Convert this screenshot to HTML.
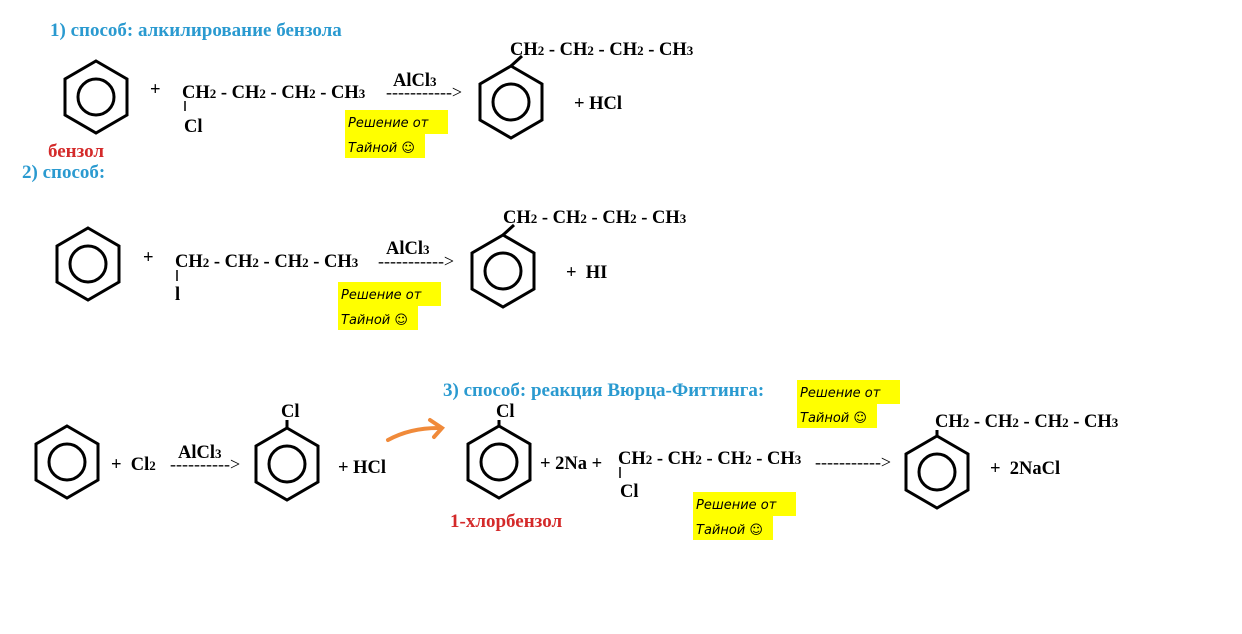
<!DOCTYPE html>
<html><head><meta charset="utf-8"><style>
html,body{margin:0;padding:0;background:#fff}
svg{display:block}
.t{font-family:"Liberation Serif",serif;font-weight:bold;font-size:18.5px;fill:#000}
.b{font-family:"Liberation Serif",serif;font-weight:bold;font-size:19px;fill:#2a9ad0}
.r{font-family:"Liberation Serif",serif;font-weight:bold;font-size:19px;fill:#d42a2a}
.h{font-family:"DejaVu Sans",sans-serif;font-style:italic;font-size:13px;fill:#000}
.d{font-family:"Liberation Serif",serif;font-size:18px;fill:#000}
</style></head><body>
<svg width="1242" height="634" viewBox="0 0 1242 634" xmlns="http://www.w3.org/2000/svg">
<defs>
<g id="bz" fill="none" stroke="#000" stroke-width="3">
<polygon points="0,-36 31,-18 31,18 0,36 -31,18 -31,-18"/>
<circle r="18"/>
</g>
<g id="hl">
<rect x="0" y="0" width="103" height="24" fill="#ffff00"/>
<rect x="0" y="24" width="80" height="24" fill="#ffff00"/>
<text class="h" x="3" y="17">Решение от</text>
<text class="h" x="3" y="42">Тайной ☺</text>
</g>
</defs>

<!-- Row 1 -->
<text class="b" x="50" y="36">1) способ: алкилирование бензола</text>
<use href="#bz" x="96" y="97"/>
<text class="t" x="150" y="95">+</text>
<text class="t" x="182" y="98">CH<tspan font-size="13">2</tspan> - CH<tspan font-size="13">2</tspan> - CH<tspan font-size="13">2</tspan> - CH<tspan font-size="13">3</tspan></text>
<line x1="185" y1="101" x2="185" y2="111" stroke="#000" stroke-width="1.5"/>
<text class="t" x="184" y="132">Cl</text>
<text class="t" x="393" y="86">AlCl<tspan font-size="13">3</tspan></text>
<text class="d" x="386" y="98">-----------&gt;</text>
<use href="#hl" x="345" y="110"/>
<use href="#bz" x="511" y="102"/>
<line x1="511" y1="66" x2="522" y2="56" stroke="#000" stroke-width="3"/>
<text class="t" x="510" y="55">CH<tspan font-size="13">2</tspan> - CH<tspan font-size="13">2</tspan> - CH<tspan font-size="13">2</tspan> - CH<tspan font-size="13">3</tspan></text>
<text class="t" x="574" y="109">+ HCl</text>
<text class="r" x="48" y="157">бензол</text>

<!-- Row 2 -->
<text class="b" x="22" y="178">2) способ:</text>
<use href="#bz" x="88" y="264"/>
<text class="t" x="143" y="263">+</text>
<text class="t" x="175" y="267">CH<tspan font-size="13">2</tspan> - CH<tspan font-size="13">2</tspan> - CH<tspan font-size="13">2</tspan> - CH<tspan font-size="13">3</tspan></text>
<line x1="177" y1="270" x2="177" y2="281" stroke="#000" stroke-width="1.5"/>
<text class="t" x="175" y="300">l</text>
<text class="t" x="386" y="254">AlCl<tspan font-size="13">3</tspan></text>
<text class="d" x="378" y="267">-----------&gt;</text>
<use href="#hl" x="338" y="282"/>
<use href="#bz" x="503" y="271"/>
<line x1="503" y1="235" x2="514" y2="225" stroke="#000" stroke-width="3"/>
<text class="t" x="503" y="223">CH<tspan font-size="13">2</tspan> - CH<tspan font-size="13">2</tspan> - CH<tspan font-size="13">2</tspan> - CH<tspan font-size="13">3</tspan></text>
<text class="t" x="566" y="278">+&#160;&#160;HI</text>

<!-- Row 3 -->
<use href="#bz" x="67" y="462"/>
<text class="t" x="111" y="470">+&#160;&#160;Cl<tspan font-size="13">2</tspan></text>
<text class="t" x="178" y="458">AlCl<tspan font-size="13">3</tspan></text>
<text class="d" x="170" y="470">----------&gt;</text>
<use href="#bz" x="287" y="464"/>
<line x1="287" y1="428" x2="287" y2="420" stroke="#000" stroke-width="3"/>
<text class="t" x="281" y="417">Cl</text>
<text class="t" x="338" y="473">+ HCl</text>
<path d="M388,440 Q410,428 438,428" fill="none" stroke="#f08a3a" stroke-width="4" stroke-linecap="round"/>
<path d="M430,420 L442,428 L434,437" fill="none" stroke="#f08a3a" stroke-width="4" stroke-linecap="round"/>

<text class="b" x="443" y="396">3) способ: реакция Вюрца-Фиттинга:</text>
<use href="#hl" x="797" y="380"/>
<use href="#bz" x="499" y="462"/>
<line x1="499" y1="426" x2="499" y2="420" stroke="#000" stroke-width="3"/>
<text class="t" x="496" y="417">Cl</text>
<text class="t" x="540" y="469">+ 2Na +</text>
<text class="t" x="618" y="464">CH<tspan font-size="13">2</tspan> - CH<tspan font-size="13">2</tspan> - CH<tspan font-size="13">2</tspan> - CH<tspan font-size="13">3</tspan></text>
<line x1="620" y1="467" x2="620" y2="478" stroke="#000" stroke-width="1.5"/>
<text class="t" x="620" y="497">Cl</text>
<text class="r" x="450" y="527">1-хлорбензол</text>
<use href="#hl" x="693" y="492"/>
<text class="d" x="815" y="468">-----------&gt;</text>
<use href="#bz" x="937" y="472"/>
<line x1="937" y1="436" x2="937" y2="430" stroke="#000" stroke-width="3"/>
<text class="t" x="935" y="427">CH<tspan font-size="13">2</tspan> - CH<tspan font-size="13">2</tspan> - CH<tspan font-size="13">2</tspan> - CH<tspan font-size="13">3</tspan></text>
<text class="t" x="990" y="474">+&#160;&#160;2NaCl</text>
</svg>
</body></html>
